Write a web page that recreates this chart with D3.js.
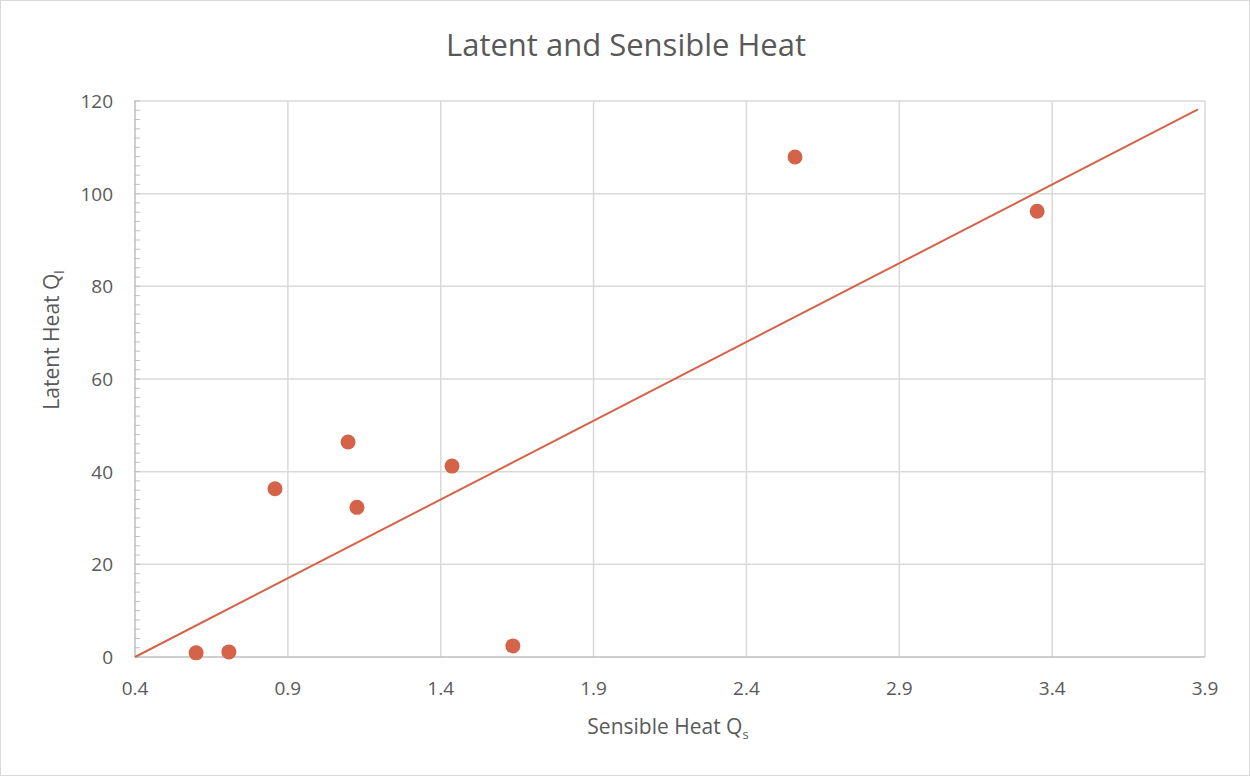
<!DOCTYPE html>
<html>
<head>
<meta charset="utf-8">
<script src="https://cdn.jsdelivr.net/npm/d3@7"></script>
<style>
  body { margin: 0; background: #fff; }
  text { font-family: "Open Sans", "Noto Sans", sans-serif; fill: #595959; }
</style>
</head>
<body>
<script>
// data
const sensible = [0.60, 0.707, 0.858, 1.097, 1.126, 1.437, 1.636, 2.559, 3.351];
const latent = [0.9, 1.1, 36.3, 46.4, 32.3, 41.2, 2.4, 107.9, 96.2];
const trendX = [0.4, 3.877];
const trendY = [0, 118.2];
const xTicks = [0.4, 0.9, 1.4, 1.9, 2.4, 2.9, 3.4, 3.9];
const yTicks = [0, 20, 40, 60, 80, 100, 120];

function main() {
    const width = 1250, height = 776;
    const margin = { top: 101, right: 45, bottom: 119, left: 135 };
    const col = "#D4634A";

    const svg = d3.select("body").append("svg")
        .attr("width", width)
        .attr("height", height);

    svg.append("rect")
        .attr("x", 0.5).attr("y", 0.5)
        .attr("width", width - 1).attr("height", height - 1)
        .attr("fill", "#fff")
        .attr("stroke", "#d9d9d9");

    const x = d3.scaleLinear().domain([0.4, 3.9]).range([margin.left, width - margin.right]);
    const y = d3.scaleLinear().domain([0, 120]).range([height - margin.bottom, margin.top]);

    // gridlines
    svg.append("g")
        .selectAll("line.v")
        .data(xTicks.slice(1))
        .join("line")
        .attr("x1", d => x(d)).attr("x2", d => x(d))
        .attr("y1", y(0)).attr("y2", y(120))
        .attr("stroke", "#d9d9d9").attr("stroke-width", 1.5);
    svg.append("g")
        .selectAll("line.h")
        .data(yTicks.slice(1))
        .join("line")
        .attr("x1", x(0.4)).attr("x2", x(3.9))
        .attr("y1", d => y(d)).attr("y2", d => y(d))
        .attr("stroke", "#d9d9d9").attr("stroke-width", 1.5);

    // minor ticks on the y axis
    const minor = d3.range(0, 121, 2);
    svg.append("g")
        .selectAll("line")
        .data(minor)
        .join("line")
        .attr("x1", x(0.4) - 1).attr("x2", x(0.4) + 5)
        .attr("y1", d => y(d)).attr("y2", d => y(d))
        .attr("stroke", "#bfbfbf").attr("stroke-width", 1);

    // axis lines
    svg.append("line")
        .attr("x1", x(0.4)).attr("x2", x(3.9))
        .attr("y1", y(0)).attr("y2", y(0))
        .attr("stroke", "#bfbfbf").attr("stroke-width", 1.5);
    svg.append("line")
        .attr("x1", x(0.4)).attr("x2", x(0.4))
        .attr("y1", y(0)).attr("y2", y(120))
        .attr("stroke", "#bfbfbf").attr("stroke-width", 1.5);

    // tick labels
    svg.append("g")
        .selectAll("text")
        .data(xTicks)
        .join("text")
        .attr("x", d => x(d))
        .attr("y", y(0) + 38)
        .attr("text-anchor", "middle")
        .attr("font-size", "19px")
        .text(d => d3.format(".1f")(d));
    svg.append("g")
        .selectAll("text")
        .data(yTicks)
        .join("text")
        .attr("x", x(0.4) - 22)
        .attr("y", d => y(d) + 7)
        .attr("text-anchor", "end")
        .attr("font-size", "19px")
        .text(d => d);

    // trendline
    svg.append("path")
        .datum(d3.zip(trendX, trendY))
        .attr("d", d3.line().x(d => x(d[0])).y(d => y(d[1])))
        .attr("stroke", col).attr("stroke-width", 2).attr("fill", "none");

    // points
    svg.append("g")
        .selectAll("circle")
        .data(d3.zip(sensible, latent))
        .join("circle")
        .attr("cx", d => x(d[0]))
        .attr("cy", d => y(d[1]))
        .attr("r", 7.5)
        .attr("fill", col);

    // titles
    svg.append("text")
        .attr("x", 626).attr("y", 56)
        .attr("text-anchor", "middle")
        .attr("font-size", "31px")
        .text("Latent and Sensible Heat");

    const xt = svg.append("text")
        .attr("x", 668).attr("y", 734)
        .attr("text-anchor", "middle")
        .attr("font-size", "21px")
        .text("Sensible Heat Q");
    xt.append("tspan").attr("font-size", "13px").attr("dy", 5).text("s");

    const yt = svg.append("text")
        .attr("transform", "translate(59, 340) rotate(-90)")
        .attr("text-anchor", "middle")
        .attr("font-size", "21px")
        .text("Latent Heat Q");
    yt.append("tspan").attr("font-size", "13px").attr("dy", 5).text("l");
}

main();
</script>
</body>
</html>
